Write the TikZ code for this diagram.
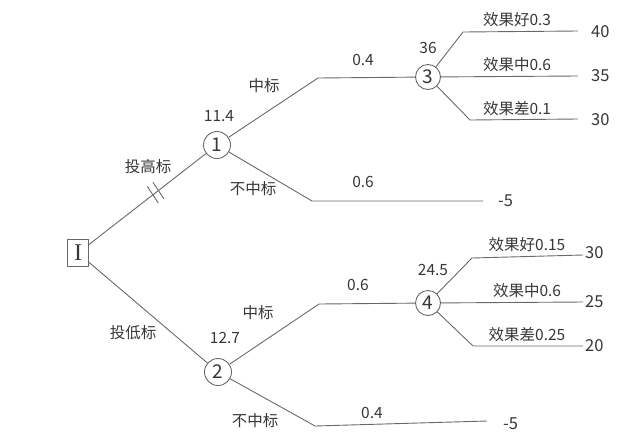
\documentclass[tikz,border=0pt]{standalone}
\usepackage{fontspec}
\setmainfont{Noto Sans CJK SC}
\newfontfamily\romanfont{Liberation Serif}
\usetikzlibrary{positioning,calc}
\definecolor{linegray}{RGB}{105,105,105}
\definecolor{textgray}{RGB}{55,55,55}

\begin{document}
\begin{tikzpicture}[x=1pt,y=-1pt,
    every node/.style={text=textgray},
    lnk/.style={draw=linegray,line width=0.9pt},
    lbl/.style={inner sep=0pt,font=\fontsize{15.5}{17}\selectfont},
    val/.style={inner sep=0pt,anchor=west,font=\fontsize{16.5}{18}\selectfont},
    chance/.style={circle,draw=linegray,line width=0.9pt,minimum size=27pt,inner sep=0pt,font=\fontsize{19}{21}\selectfont},
    decision/.style={rectangle,draw=linegray,line width=0.9pt,minimum width=21pt,minimum height=27pt,inner sep=0pt,font=\romanfont\fontsize{24}{26}\selectfont}]
    \useasboundingbox (0,0) rectangle (620,445);

    % decision and chance nodes
    \node[decision] (d0) at (78,253) {I};
    \node[chance] (c1) at (217,145) {1};
    \node[chance] (c2) at (218,372) {2};
    \node[chance,minimum size=25pt] (c3) at (428,77) {3};
    \node[chance,minimum size=25pt] (c4) at (428,303) {4};

    % bends and line ends
    \coordinate (b1) at (318,78);
    \coordinate (b2) at (312,201);
    \coordinate (e2) at (483,201);
    \coordinate (b3) at (319,304);
    \coordinate (b4) at (315,426);
    \coordinate (e4) at (487,421);
    \coordinate (b31) at (463,32);
    \coordinate (e31) at (578,31);
    \coordinate (e32) at (578,76);
    \coordinate (b33) at (470,120);
    \coordinate (e33) at (578,119);
    \coordinate (b41) at (472,258);
    \coordinate (e41) at (583,255);
    \coordinate (e42) at (583,302);
    \coordinate (b43) at (473,346);
    \coordinate (e43) at (583,346);

    % branches
    \draw[lnk] (d0) -- (c1);
    \draw[lnk] (d0) -- (c2);
    \draw[lnk] (c1) -- (b1) -- (c3);
    \draw[lnk] (c1) -- (b2) -- (e2);
    \draw[lnk] (c2) -- (b3) -- (c4);
    \draw[lnk] (c2) -- (b4) -- (e4);
    \draw[lnk] (c3) -- (b31) -- (e31);
    \draw[lnk] (c3) -- (e32);
    \draw[lnk] (c3) -- (b33) -- (e33);
    \draw[lnk] (c4) -- (b41) -- (e41);
    \draw[lnk] (c4) -- (e42);
    \draw[lnk] (c4) -- (b43) -- (e43);

    % cut mark on the rejected branch
    \path (d0) -- (c1) coordinate[pos=0.57] (cut);
    \draw[lnk] ($(cut)+(-8.3,-6.2)$) -- ($(cut)+(2.7,10.4)$);
    \draw[lnk] ($(cut)+(-2.7,-10.4)$) -- ($(cut)+(8.3,6.2)$);

    % labels
    \node[lbl] (l1) at (148,167) {投高标};
    \node[lbl] (l2) at (133,333) {投低标};
    \node[lbl] (x1) at (219,116) {11.4};
    \node[lbl] (x2) at (225,338) {12.7};
    \node[lbl] (x3) at (428,48) {36};
    \node[lbl] (x4) at (433,270) {24.5};
    \node[lbl] (w1) at (264,86) {中标};
    \node[lbl] (n1) at (253,189) {不中标};
    \node[lbl] (w2) at (258,313) {中标};
    \node[lbl] (n2) at (255,421) {不中标};
    \node[lbl] (p1) at (363,60) {0.4};
    \node[lbl] (p2) at (363,182) {0.6};
    \node[lbl] (p3) at (358,285) {0.6};
    \node[lbl] (p4) at (372,413) {0.4};
    \node[lbl] (q31) at (517,20) {效果好0.3};
    \node[lbl] (q32) at (517,65) {效果中0.6};
    \node[lbl] (q33) at (517,109) {效果差0.1};
    \node[lbl] (q41) at (527,245) {效果好0.15};
    \node[lbl] (q42) at (527,291) {效果中0.6};
    \node[lbl] (q43) at (527,335) {效果差0.25};

    % outcome values
    \node[val] (v31) at (591,32) {40};
    \node[val] (v32) at (591,76) {35};
    \node[val] (v33) at (591,120) {30};
    \node[val] (v2) at (498,201) {-5};
    \node[val] (v41) at (585,253) {30};
    \node[val] (v42) at (585,302) {25};
    \node[val] (v43) at (585,346) {20};
    \node[val] (v4) at (503,424) {-5};
\end{tikzpicture}
\end{document}
